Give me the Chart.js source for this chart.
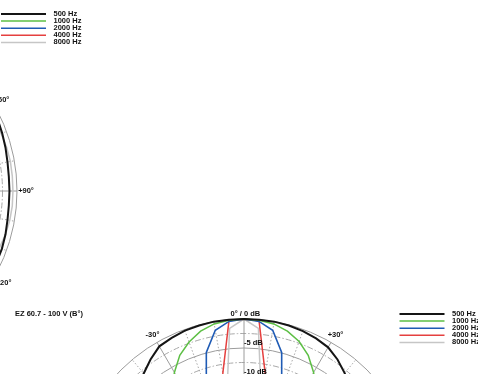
<!DOCTYPE html>
<html><head><meta charset="utf-8">
<script src="https://cdn.jsdelivr.net/npm/chart.js@4.4.1/dist/chart.umd.min.js"></script>
<style>
html,body{margin:0;padding:0;background:#fff;overflow:hidden;width:478px;height:374px;position:relative}
canvas{position:absolute}
</style></head><body>
<canvas id="topPlot" width="600" height="600"></canvas>
<canvas id="bottomPlot" width="600" height="600"></canvas>
<script>
// ---- data ----
const angles = [0,5,10,15,20,25,30,35,40,45,50,55,60,65,70,75,80,85,90,95,100,105,110,115,120,125,130,135,140,145,150,155,160,165,170,175,
  180,185,190,195,200,205,210,215,220,225,230,235,240,245,250,255,260,265,270,275,280,285,290,295,300,305,310,315,320,325,330,335,340,345,350,355];
const seriesNames = ['500 Hz','1000 Hz','2000 Hz','4000 Hz','8000 Hz'];
const angleTickValues = [0,30,60,90,120,150,180,210,240,270,300,330];
const angleTickLabels = ['0°','+30°','+60°','+90°','+120°','+150°','180°','-150°','-120°','-90°','-60°','-30°'];
const dbTickValues = [0,-5,-10,-15,-20,-25];
const dbTickLabels = ['0 dB','-5 dB','-10 dB','-15 dB','-20 dB','-25 dB'];
const bottomTitle = 'EZ 60.7 - 100 V (B°)';

// top plot (partly visible)
const top500 = [0,0,-0.1,-0.1,-0.2,-0.2,-0.3,-0.3,-0.3,-0.4,-0.4,-0.5,-0.5,-0.6,-0.8,-1.0,-1.2,-1.3,-1.3,-1.3,-1.2,-1.0,-0.85,-0.8,-0.8,-0.9,-1.0,-1.2,-1.4,-1.6,-1.8,-2.0,-2.2,-2.3,-2.4,-2.5,
  -2.5,-2.5,-2.4,-2.3,-2.2,-2.0,-1.8,-1.6,-1.4,-1.2,-1.0,-0.9,-0.8,-0.8,-0.85,-1.0,-1.2,-1.3,-1.3,-1.3,-1.2,-1.0,-0.8,-0.6,-0.5,-0.5,-0.4,-0.4,-0.3,-0.3,-0.3,-0.2,-0.2,-0.1,-0.1,0];
const top1000 = [0,0,-0.1,-0.2,-0.4,-0.6,-0.9,-1.2,-1.6,-2.0,-2.5,-3.0,-3.5,-4.0,-4.4,-4.8,-5.1,-5.3,-5.5,-5.6,-5.8,-6.0,-6.3,-6.7,-7.1,-7.6,-8.1,-8.6,-9.1,-9.6,-10.0,-10.4,-10.7,-11.0,-11.2,-11.3,
  -11.3,-11.3,-11.2,-11.0,-10.7,-10.4,-10.0,-9.6,-9.1,-8.6,-8.1,-7.6,-7.1,-6.7,-6.3,-6.0,-5.8,-5.6,-5.5,-5.3,-5.1,-4.8,-4.4,-4.0,-3.5,-3.0,-2.5,-2.0,-1.6,-1.2,-0.9,-0.6,-0.4,-0.2,-0.1,0];
const top2000 = [0,-0.1,-0.3,-0.6,-1.0,-1.5,-2.0,-2.7,-3.5,-4.2,-5.0,-5.8,-6.5,-7.3,-8.0,-8.5,-9.0,-9.3,-9.5,-9.8,-10.0,-10.5,-11.0,-11.5,-12.0,-12.5,-13.0,-13.5,-14.0,-14.5,-15.0,-15.2,-15.5,-15.8,-16.0,-16.0,
  -16.0,-16.0,-16.0,-15.8,-15.5,-15.2,-15.0,-14.5,-14.0,-13.5,-13.0,-12.5,-12.0,-11.5,-11.0,-10.5,-10.0,-9.8,-9.5,-9.3,-9.0,-8.5,-8.0,-7.3,-6.5,-5.8,-5.0,-4.2,-3.5,-2.7,-2.0,-1.5,-1.0,-0.6,-0.3,-0.1];
const top4000 = [0,-0.2,-0.5,-1.1,-1.8,-2.6,-3.5,-4.5,-5.5,-6.5,-7.5,-8.5,-9.5,-10.3,-11.0,-11.5,-12.0,-12.3,-12.5,-12.8,-13.0,-13.5,-14.0,-14.5,-15.0,-15.5,-16.0,-16.5,-17.0,-17.5,-18.0,-18.3,-18.5,-18.8,-19.0,-19.0,
  -19.0,-19.0,-19.0,-18.8,-18.5,-18.3,-18.0,-17.5,-17.0,-16.5,-16.0,-15.5,-15.0,-14.5,-14.0,-13.5,-13.0,-12.8,-12.5,-12.3,-12.0,-11.5,-11.0,-10.3,-9.5,-8.5,-7.5,-6.5,-5.5,-4.5,-3.5,-2.6,-1.8,-1.1,-0.5,-0.2];
const top8000 = [0,-0.2,-0.5,-0.8,-1.2,-1.5,-1.8,-1.9,-2.0,-2.0,-1.8,-1.6,-1.4,-1.2,-1.0,-0.8,-0.7,-0.7,-0.7,-0.7,-0.8,-1.0,-1.3,-1.8,-2.4,-3.2,-4.0,-5.0,-6.0,-7.0,-8.0,-9.0,-10.0,-10.5,-11.0,-11.3,
  -11.5,-11.3,-11.0,-10.5,-10.0,-9.0,-8.0,-7.0,-6.0,-5.0,-4.0,-3.2,-2.4,-1.8,-1.3,-1.0,-0.8,-0.7,-0.7,-0.7,-0.7,-0.8,-1.0,-1.2,-1.4,-1.6,-1.8,-2.0,-2.0,-1.9,-1.8,-1.5,-1.2,-0.8,-0.5,-0.2];

// bottom plot: EZ 60.7 - 100 V (B°)
const bot500 = [0,0,0,-0.1,-0.3,-0.6,-1.0,-1.9,-3.0,-4.2,-5.5,-7.0,-8.5,-10.0,-11.4,-12.7,-13.8,-14.8,-15.6,-16.3,-16.9,-17.4,-17.8,-18.2,-18.5,-18.8,-19.1,-19.3,-19.5,-19.7,-19.8,-19.9,-20.0,-20.0,-20.1,-20.1,
  -20.1,-20.1,-20.1,-20.0,-20.0,-19.9,-19.8,-19.7,-19.5,-19.3,-19.1,-18.8,-18.5,-18.2,-17.8,-17.4,-16.9,-16.3,-15.6,-14.8,-13.8,-12.7,-11.4,-10.0,-8.5,-7.0,-5.5,-4.2,-3.1,-1.9,-0.8,-0.5,-0.2,-0.1,0,0];
const bot1000 = [0,-0.1,-0.4,-1.1,-2.2,-3.8,-6.0,-8.4,-10.8,-12.8,-14.4,-15.6,-16.6,-17.4,-18.0,-18.6,-19.1,-19.6,-20.0,-20.4,-20.8,-21.2,-21.6,-22.0,-22.3,-22.6,-22.9,-23.2,-23.4,-23.6,-23.8,-24.0,-24.1,-24.2,-24.3,-24.3,
  -24.3,-24.3,-24.3,-24.2,-24.1,-24.0,-23.8,-23.6,-23.4,-23.2,-22.9,-22.6,-22.3,-22.0,-21.6,-21.2,-20.8,-20.4,-20.0,-19.6,-19.1,-18.6,-18.0,-17.4,-16.6,-15.6,-14.4,-12.8,-10.8,-8.4,-6.0,-3.8,-2.3,-1.1,-0.4,-0.1];
const bot2000 = [0,-0.3,-1.5,-4.9,-11.0,-15.5,-18.5,-20.0,-21.0,-21.5,-22.0,-22.5,-23.0,-23.4,-23.8,-24.2,-24.5,-24.8,-25.0,-25.2,-25.4,-25.6,-25.8,-26.0,-26.1,-26.2,-26.3,-26.4,-26.5,-26.5,-26.6,-26.6,-26.7,-26.7,-26.7,-26.8,
  -26.8,-26.8,-26.7,-26.7,-26.7,-26.6,-26.6,-26.5,-26.5,-26.4,-26.3,-26.2,-26.1,-26.0,-25.8,-25.6,-25.4,-25.2,-25.0,-24.8,-24.5,-24.2,-23.8,-23.4,-23.0,-22.5,-22.0,-21.5,-21.0,-20.0,-18.5,-15.5,-11.0,-4.9,-1.5,-0.3];
const bot4000 = [0,-0.2,-9.0,-15.5,-19.0,-21.0,-22.5,-23.5,-24.2,-24.8,-25.2,-25.6,-26.0,-26.3,-26.6,-26.8,-27.0,-27.1,-27.2,-27.2,-27.3,-27.3,-27.3,-27.4,-27.4,-27.4,-27.4,-27.5,-27.5,-27.5,-27.5,-27.5,-27.5,-27.5,-27.5,-27.5,
  -27.5,-27.5,-27.5,-27.5,-27.5,-27.5,-27.5,-27.5,-27.5,-27.5,-27.4,-27.4,-27.4,-27.4,-27.3,-27.3,-27.3,-27.2,-27.2,-27.1,-27.0,-26.8,-26.6,-26.3,-26.0,-25.6,-25.2,-24.8,-24.2,-23.5,-22.5,-21.0,-19.0,-15.5,-9.0,-0.2];
const bot8000 = [0,-1.5,-13.0,-19.0,-22.0,-23.5,-24.5,-25.2,-25.8,-26.0,-26.3,-26.5,-26.7,-26.9,-27.0,-27.1,-27.2,-27.3,-27.4,-27.4,-27.5,-27.5,-27.5,-27.6,-27.6,-27.6,-27.6,-27.7,-27.7,-27.7,-27.7,-27.7,-27.7,-27.7,-27.7,-27.7,
  -27.7,-27.7,-27.7,-27.7,-27.7,-27.7,-27.7,-27.7,-27.7,-27.7,-27.6,-27.6,-27.6,-27.6,-27.5,-27.5,-27.5,-27.4,-27.4,-27.3,-27.2,-27.1,-27.0,-26.9,-26.7,-26.5,-26.3,-26.0,-25.8,-25.2,-24.5,-23.5,-22.0,-19.0,-13.0,-1.5];

// ---- styling ----
const seriesColors = ['#151515','#5dbf45','#1f5bb5','#e5403f','#c6c6c6'];
const seriesWidths = [2, 1.5, 1.6, 1.5, 1.5];
const FONT = 'bold 7.5px "Liberation Sans", Arial, sans-serif';

const polarDecor = {
  id: 'polarDecor',
  afterDraw(chart, args, o) {
    const s = chart.scales.r, ctx = chart.ctx;
    const cx = s.xCenter, cy = s.yCenter;
    ctx.save();
    ctx.font = FONT;
    ctx.fillStyle = '#111';
    ctx.textBaseline = 'middle';
    ctx.textAlign = 'left';
    dbTickValues.forEach((v, i) => {
      const y = cy - s.getDistanceFromCenterForValue(v) - 5;
      let text = dbTickLabels[i], x = cx;
      if (v === 0) {
        const pre = angleTickLabels[0] + ' / ';
        x = cx - ctx.measureText(pre).width;
        text = pre + text;
      }
      ctx.fillText(text, x, y);
    });
    ctx.textAlign = 'center';
    angleTickValues.forEach((a, i) => {
      if (a === 0) return;
      const p = s.getPointPosition(angles.indexOf(a), s.drawingArea + 9);
      ctx.fillText(angleTickLabels[i], p.x, p.y);
    });
    const x0 = cx + o.legendX, y0 = cy + o.legendY;
    chart.data.datasets.forEach((d, i) => {
      const y = y0 + i * 7.1;
      ctx.strokeStyle = d.borderColor;
      ctx.lineWidth = d.borderWidth;
      ctx.beginPath(); ctx.moveTo(x0, y); ctx.lineTo(x0 + 45, y); ctx.stroke();
      ctx.textAlign = 'left';
      ctx.fillText(d.label, x0 + 52.5, y);
    });
    if (o.title) {
      ctx.textAlign = 'left';
      ctx.fillText(o.title, cx + o.titleX, cy + o.titleY);
    }
    ctx.restore();
  }
};

function makePolar(id, series, centerX, centerY, decor) {
  const el = document.getElementById(id);
  const chart = new Chart(el, {
    type: 'radar',
    data: {
      labels: angles.map(a => a + '°'),
      datasets: series.map((vals, i) => ({
        label: seriesNames[i], data: vals,
        borderColor: seriesColors[i], borderWidth: seriesWidths[i],
        pointRadius: 0, pointHoverRadius: 0, fill: false, tension: 0
      }))
    },
    options: {
      responsive: false, animation: false,
      layout: { padding: 126 },
      plugins: { legend: { display: false }, tooltip: { enabled: false }, polarDecor: decor },
      scales: { r: {
        min: -30, max: 0, startAngle: 0,
        ticks: { display: false, stepSize: 2.5 },
        pointLabels: { display: false },
        grid: { circular: true, lineWidth: 1,
          color: c => (Math.abs(c.tick.value) % 5 === 0 ? '#9c9c9c' : '#a8a8a8') },
        border: { dash: c => (Math.abs(c.tick.value) % 5 === 0 ? [] : [6, 2, 1.5, 2]) },
        angleLines: { lineWidth: 1,
          color: c => (angles[c.index] % 30 === 0 ? '#9c9c9c' : (angles[c.index] % 10 === 0 ? '#a8a8a8' : 'rgba(0,0,0,0)')),
          borderDash: c => (angles[c.index] % 30 === 0 ? [] : [1.5, 2]) }
      } }
    },
    plugins: [polarDecor]
  });
  const s = chart.scales.r;
  el.style.left = (centerX - s.xCenter) + 'px';
  el.style.top = (centerY - s.yCenter) + 'px';
  return chart;
}

makePolar('topPlot', [top500, top1000, top2000, top4000, top8000], -157, 191,
  { legendX: 158, legendY: -177 });
makePolar('bottomPlot', [bot500, bot1000, bot2000, bot4000, bot8000], 244, 493,
  { legendX: 155.5, legendY: -179, title: bottomTitle, titleX: -229, titleY: -179.5 });
</script>
</body></html>
